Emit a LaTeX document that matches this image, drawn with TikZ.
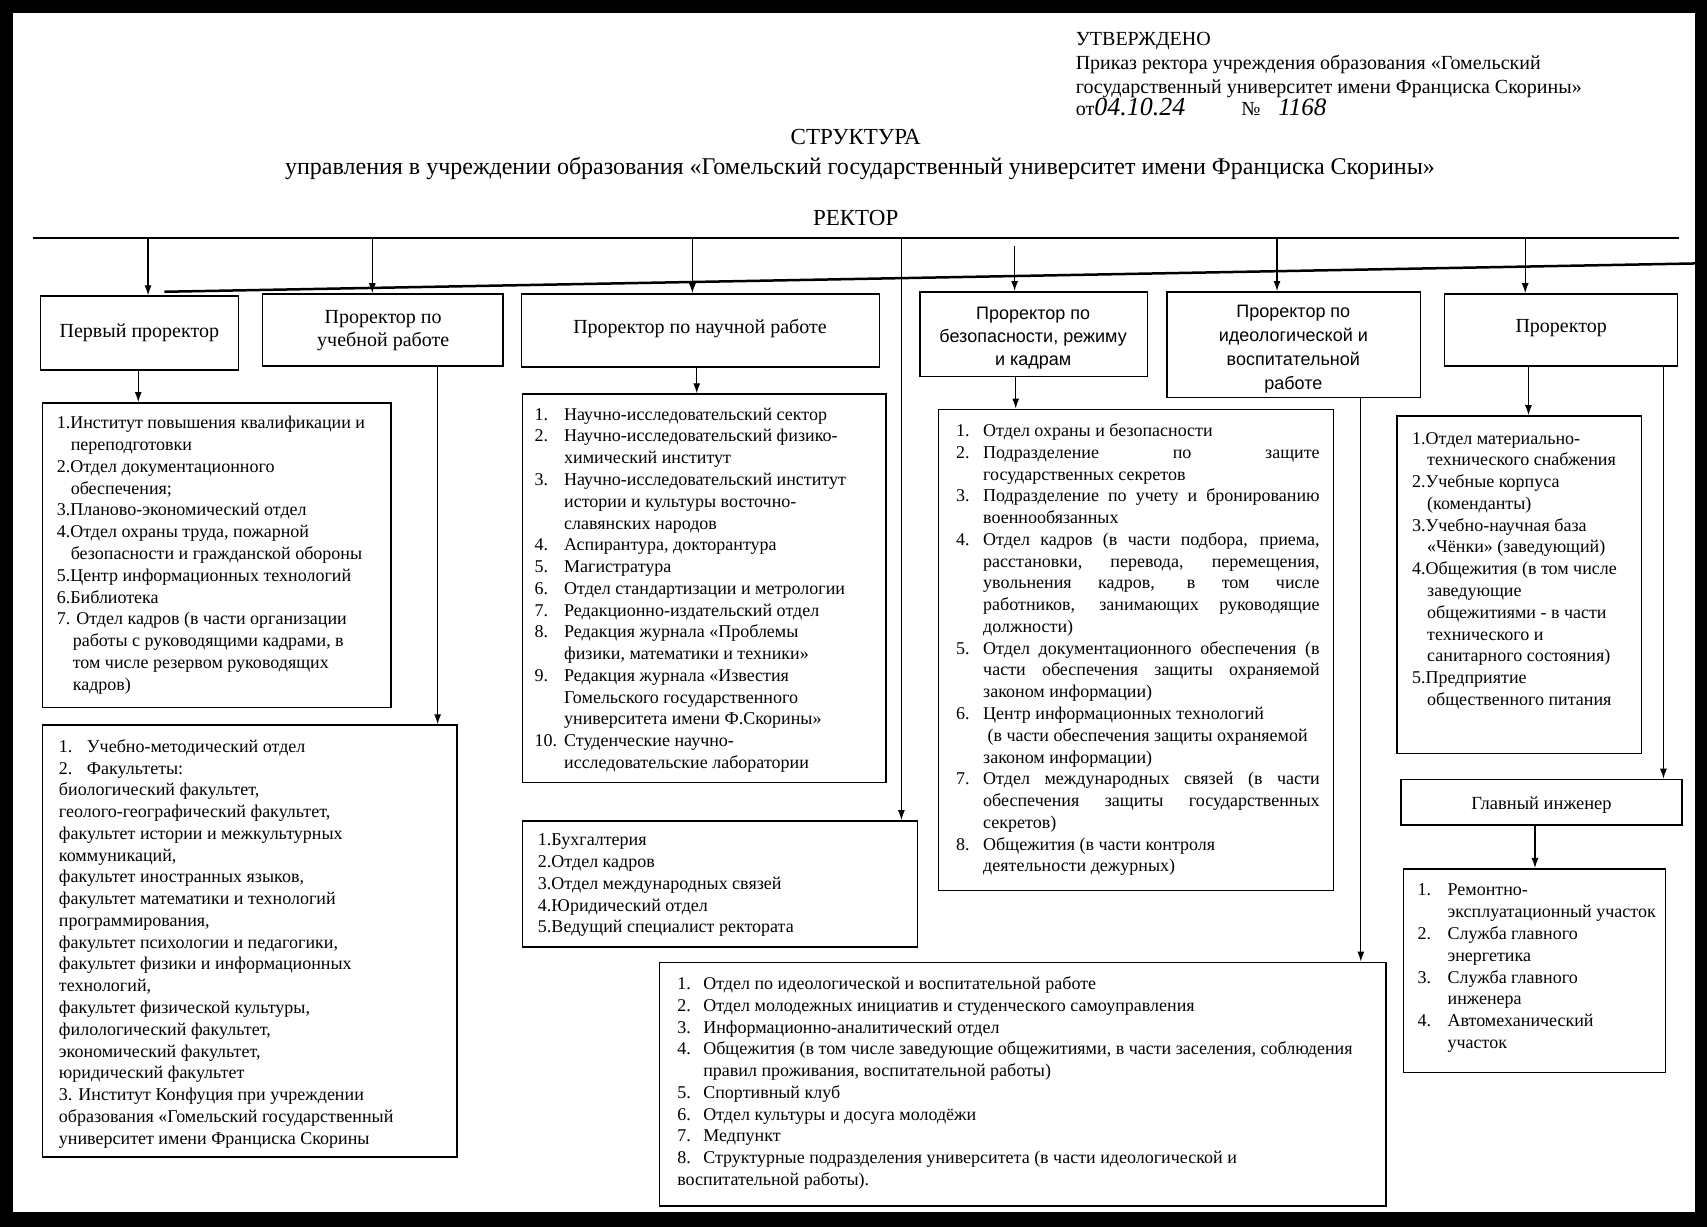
\documentclass[tikz,border=0pt]{standalone}
\usepackage{fontspec}
\setmainfont{Liberation Serif}
\newfontfamily\sansf{Liberation Sans}
\usetikzlibrary{arrows.meta,fit}
\newcommand\lf{\fontsize{18}{21.77}\selectfont}
\newcommand\hf{\fontsize{20}{23}\selectfont}
\newcommand\nb[2][28pt]{\makebox[#1][l]{#2}}
\newcommand\J[1]{\makebox[336.4pt][s]{#1}}
\newcommand\fr{\rule{0pt}{15pt}}
\begin{document}
\begin{tikzpicture}[x=1.0886pt,y=-1.0886pt,
  box/.style={draw, line width=1.5pt, inner sep=0pt},
  txt/.style={anchor=north west, inner sep=0pt, align=left, font=\lf},
  ttl/.style={anchor=center, inner sep=0pt, align=center, font=\hf},
  arr/.style={line width=1.2pt, -{Latex[length=10pt,width=7pt]}},
  hd/.style={anchor=base west, inner sep=0pt, font=\hf}]
\fill[black] (0,0) rectangle (1568,1127);
\fill[white] (12,12) rectangle (1557,1113);
\useasboundingbox (0,0) rectangle (1568,1127);

% header
\node[hd] (utv) at (988,42) {УТВЕРЖДЕНО};
\node[hd] (prk1) at (988,64) {Приказ ректора учреждения образования «Гомельский};
\node[hd] (prk2) at (988,86) {государственный университет имени Франциска Скорины»};
\node[hd] (ot) at (988,106) {от};
\node[hd, font=\fontsize{26}{28}\selectfont\itshape] (date) at (1005,106) {04.10.24};
\node[hd] (no) at (1140,106) {№};
\node[hd, font=\fontsize{25}{28}\selectfont\itshape] (num) at (1174,106) {1168};

\node[anchor=base, inner sep=0pt, font=\fontsize{23}{26}\selectfont] (title) at (786,133) {СТРУКТУРА};
\node[anchor=base, inner sep=0pt, font=\fontsize{24}{27}\selectfont] (subtitle) at (790,160) {управления в учреждении образования «Гомельский государственный университет имени Франциска Скорины»};
\node[anchor=base, inner sep=0pt, font=\fontsize{23}{26}\selectfont] (rector) at (786,207) {РЕКТОР};

% bus lines
\coordinate (busL) at (30,219);
\coordinate (busR) at (1542,219);
\draw[line width=2pt] (busL) -- (busR);
\coordinate (slA) at (151,268);
\coordinate (slB) at (1557,242);
\draw[line width=2.5pt] (slA) -- (slB);

% vice-rector boxes
\node[box, fit={(37,272) (219,340)}] (b1) {};
\node[box, fit={(241,270) (462,336)}] (b2) {};
\node[box, fit={(479,270) (808,337)}] (b3) {};
\node[box, fit={(845,268) (1054,346)}] (b4) {};
\node[box, fit={(1072,268) (1305,365)}] (b5) {};
\node[box, fit={(1327,270) (1541,336)}] (b6) {};
\node[box, fit={(1287,716) (1545,758)}] (gi) {};

\node[ttl] (b1t) at (128,306) {Первый проректор};
\node[ttl] (b2t) at (352,304) {Проректор по\\учебной работе};
\node[ttl] (b3t) at (643,302) {Проректор по научной работе};
\node[ttl, font=\sansf\fontsize{18}{22.9}\selectfont] (b4t) at (949,311) {Проректор по\\безопасности, режиму\\и кадрам};
\node[ttl, font=\sansf\fontsize{18}{24}\selectfont] (b5t) at (1188,321) {Проректор по\\идеологической и\\воспитательной\\работе};
\node[ttl] (b6t) at (1434,301) {Проректор};
\node[ttl, font=\fontsize{18.5}{22}\selectfont] (git) at (1416,740) {Главный инженер};

% list boxes
\node[box, fit={(39,370) (359,650)}] (l1) {};
\node[box, fit={(39,666) (420,1063)}] (l2) {};
\node[box, fit={(480,362) (814,719)}] (l3) {};
\node[box, fit={(480,754) (843,870)}] (l8) {};
\node[box, fit={(862,376) (1225,818)}] (l4) {};
\node[box, fit={(606,884) (1273,1108)}] (l5) {};
\node[box, fit={(1283,382) (1508,692)}] (l6) {};
\node[box, fit={(1289,798) (1530,985)}] (l7) {};

% list texts
\node[txt] (l1t) at (52,380) {\fr 1.Институт повышения квалификации и\\
\hspace*{14pt}переподготовки\\
2.Отдел документационного\\
\hspace*{14pt}обеспечения;\\
3.Планово-экономический отдел\\
4.Отдел охраны труда, пожарной\\
\hspace*{14pt}безопасности и гражданской обороны\\
5.Центр информационных технологий\\
6.Библиотека\\
7. Отдел кадров (в части организации\\
\hspace*{16pt}работы с руководящими кадрами, в\\
\hspace*{16pt}том числе резервом руководящих\\
\hspace*{16pt}кадров)};

\node[txt] (l2t) at (54,677) {\fr\nb{1.}Учебно-методический отдел\\
\nb{2.}Факультеты:\\
биологический факультет,\\
геолого-географический факультет,\\
факультет истории и межкультурных\\
коммуникаций,\\
факультет иностранных языков,\\
факультет математики и технологий\\
программирования,\\
факультет психологии и педагогики,\\
факультет физики и информационных\\
технологий,\\
факультет физической культуры,\\
филологический факультет,\\
экономический факультет,\\
юридический факультет\\
3. Институт Конфуция при учреждении\\
образования «Гомельский государственный\\
университет имени Франциска Скорины};

\node[txt] (l3t) at (491,372) {\fr\nb[29.4pt]{1.}Научно-исследовательский сектор\\
\nb[29.4pt]{2.}Научно-исследовательский физико-\\
\hspace*{29.4pt}химический институт\\
\nb[29.4pt]{3.}Научно-исследовательский институт\\
\hspace*{29.4pt}истории и культуры восточно-\\
\hspace*{29.4pt}славянских народов\\
\nb[29.4pt]{4.}Аспирантура, докторантура\\
\nb[29.4pt]{5.}Магистратура\\
\nb[29.4pt]{6.}Отдел стандартизации и метрологии\\
\nb[29.4pt]{7.}Редакционно-издательский отдел\\
\nb[29.4pt]{8.}Редакция журнала «Проблемы\\
\hspace*{29.4pt}физики, математики и техники»\\
\nb[29.4pt]{9.}Редакция журнала «Известия\\
\hspace*{29.4pt}Гомельского государственного\\
\hspace*{29.4pt}университета имени Ф.Скорины»\\
\nb[29.4pt]{10.}Студенческие научно-\\
\hspace*{29.4pt}исследовательские лаборатории};

\node[txt] (l8t) at (494,763) {\fr 1.Бухгалтерия\\
2.Отдел кадров\\
3.Отдел международных связей\\
4.Юридический отдел\\
5.Ведущий специалист ректората};

\node[txt] (l4t) at (878,387) {\fr\nb[27.2pt]{1.}Отдел охраны и безопасности\\
\nb[27.2pt]{2.}\J{Подразделение по защите}\\
\hspace*{27.2pt}государственных секретов\\
\nb[27.2pt]{3.}\J{Подразделение по учету и бронированию}\\
\hspace*{27.2pt}военнообязанных\\
\nb[27.2pt]{4.}\J{Отдел кадров (в части подбора, приема,}\\
\hspace*{27.2pt}\J{расстановки, перевода, перемещения,}\\
\hspace*{27.2pt}\J{увольнения кадров, в том числе}\\
\hspace*{27.2pt}\J{работников, занимающих руководящие}\\
\hspace*{27.2pt}должности)\\
\nb[27.2pt]{5.}\J{Отдел документационного обеспечения (в}\\
\hspace*{27.2pt}\J{части обеспечения защиты охраняемой}\\
\hspace*{27.2pt}законом информации)\\
\nb[27.2pt]{6.}Центр информационных технологий\\
\hspace*{31.5pt}(в части обеспечения защиты охраняемой\\
\hspace*{27.2pt}законом информации)\\
\nb[27.2pt]{7.}\J{Отдел международных связей (в части}\\
\hspace*{27.2pt}\J{обеспечения защиты государственных}\\
\hspace*{27.2pt}секретов)\\
\nb[27.2pt]{8.}Общежития (в части контроля\\
\hspace*{27.2pt}деятельности дежурных)};

\node[txt] (l5t) at (622,895) {\fr\nb[26pt]{1.}Отдел по идеологической и воспитательной работе\\
\nb[26pt]{2.}Отдел молодежных инициатив и студенческого самоуправления\\
\nb[26pt]{3.}Информационно-аналитический отдел\\
\nb[26pt]{4.}Общежития (в том числе заведующие общежитиями, в части заселения, соблюдения\\
\hspace*{26pt}правил проживания, воспитательной работы)\\
\nb[26pt]{5.}Спортивный клуб\\
\nb[26pt]{6.}Отдел культуры и досуга молодёжи\\
\nb[26pt]{7.}Медпункт\\
\nb[26pt]{8.}Структурные подразделения университета (в части идеологической и\\
воспитательной работы).};

\node[txt] (l6t) at (1297,394) {\fr 1.Отдел материально-\\
\hspace*{15pt}технического снабжения\\
2.Учебные корпуса\\
\hspace*{15pt}(коменданты)\\
3.Учебно-научная база\\
\hspace*{15pt}«Чёнки» (заведующий)\\
4.Общежития (в том числе\\
\hspace*{15pt}заведующие\\
\hspace*{15pt}общежитиями - в части\\
\hspace*{15pt}технического и\\
\hspace*{15pt}санитарного состояния)\\
5.Предприятие\\
\hspace*{15pt}общественного питания};

\node[txt] (l7t) at (1302,809) {\fr\nb[30pt]{1.}Ремонтно-\\
\hspace*{30pt}эксплуатационный участок\\
\nb[30pt]{2.}Служба главного\\
\hspace*{30pt}энергетика\\
\nb[30pt]{3.}Служба главного\\
\hspace*{30pt}инженера\\
\nb[30pt]{4.}Автомеханический\\
\hspace*{30pt}участок};

% connectors from the rector bus
\coordinate (s4) at (932,226);
\draw[arr] (busL-|136,0) -- (b1.north-|136,0);
\draw[arr] (busL-|342,0) -- (b2.north-|342,0);
\draw[arr] (busL-|636,0) -- (b3.north-|636,0);
\draw[arr] (s4) -- (b4.north-|s4);
\draw[arr] (busL-|1173,0) -- (b5.north-|1173,0);
\draw[arr] (busL-|1401,0) -- (b6.north-|1401,0);
\draw[arr] (busL-|828,0) -- (l8.north-|828,0);

% connectors to subordinate units
\draw[arr] (b1.south-|127,0) -- (l1.north-|127,0);
\draw[arr] (b2.south-|402,0) -- (l2.north-|402,0);
\draw[arr] (b3.south-|640,0) -- (l3.north-|640,0);
\draw[arr] (b4.south-|933,0) -- (l4.north-|933,0);
\draw[arr] (b5.south-|1250,0) -- (l5.north-|1250,0);
\draw[arr] (b6.south-|1404,0) -- (l6.north-|1404,0);
\draw[arr] (b6.south-|1528,0) -- (gi.north-|1528,0);
\draw[arr] (gi.south-|1410,0) -- (l7.north-|1410,0);
\end{tikzpicture}
\end{document}
